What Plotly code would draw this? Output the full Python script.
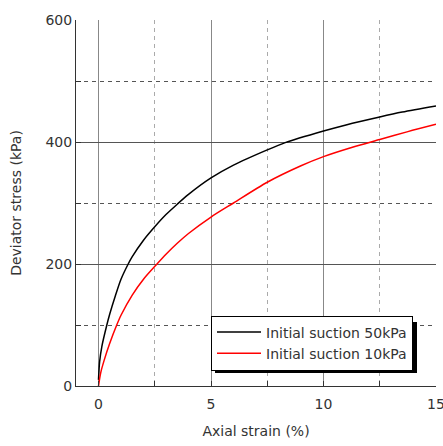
import plotly.graph_objects as go

strain_50 = [0, 0.05, 0.15, 0.37, 0.5, 0.75, 1.0, 1.32, 1.5, 2.0, 2.5, 3.0, 3.5, 4.0, 5.0, 6.0, 7.5, 8.3, 10.0, 11.0, 12.5, 13.5, 15.0]
stress_50 = [10, 40, 65, 100, 118, 148, 175, 200, 212, 239, 261, 281, 298, 314, 341, 362, 387, 399, 418, 428, 441, 449, 459]

strain_10 = [0, 0.1, 0.25, 0.5, 0.81, 1.0, 1.5, 2.0, 2.6, 3.0, 3.5, 4.0, 5.0, 6.0, 7.5, 9.0, 10.0, 11.25, 12.5, 13.75, 15.0]
stress_10 = [0, 22, 42, 70, 100, 116, 149, 175, 200, 216, 234, 250, 277, 300, 334, 361, 376, 391, 404, 417, 429]

name_50 = "Initial suction 50kPa"
name_10 = "Initial suction 10kPa"

FONT = "DejaVu Sans, Arial, sans-serif"
TXT = "#333"

L, R, T, B = 76, 436, 20, 386          # plot area in page pixels
W, H = 443, 446


def px(xp):
    return (xp - L) / (R - L)


def py(yp):
    return (B - yp) / (B - T)


fig = go.Figure()
fig.add_trace(go.Scatter(x=strain_50, y=stress_50, mode="lines", name=name_50,
                         line=dict(color="#000000", width=1.5, shape="spline", smoothing=0.8)))
fig.add_trace(go.Scatter(x=strain_10, y=stress_10, mode="lines", name=name_10,
                         line=dict(color="#ff0000", width=1.5, shape="spline", smoothing=0.8)))

# legend drop shadow
fig.add_shape(type="rect", xref="paper", yref="paper",
              x0=px(215), x1=px(417), y0=py(373), y1=py(322),
              fillcolor="#000", line=dict(width=0), layer="above")

fig.update_layout(
    width=W, height=H,
    margin=dict(l=L, r=W - R, t=T, b=H - B),
    paper_bgcolor="white", plot_bgcolor="white",
    font=dict(family=FONT, size=14, color=TXT),
    showlegend=True,
    legend=dict(x=px(413), y=py(343), xanchor="right", yanchor="middle",
                bgcolor="white", bordercolor="#000", borderwidth=1, itemwidth=44,
                font=dict(size=14, color=TXT), tracegroupgap=0),
    xaxis=dict(range=[-1, 15], tickvals=[0, 5, 10, 15], showline=True, linecolor="#333", linewidth=1,
               ticks="inside", ticklen=5, tickcolor="#333", zeroline=False, automargin=False,
               ticklabeloverflow="allow", ticklabelstandoff=5,
               showgrid=True, gridcolor="#888", gridwidth=1,
               minor=dict(tickvals=[2.5, 7.5, 12.5], ticks="inside", ticklen=5, tickcolor="#333",
                          showgrid=True, gridcolor="#aaa", griddash="4px,4px", gridwidth=1),
               title=dict(text="Axial strain (%)", font=dict(size=14, color=TXT), standoff=15)),
    yaxis=dict(range=[0, 600], tickvals=[0, 200, 400, 600], showline=True, linecolor="#333", linewidth=1,
               ticks="inside", ticklen=5, tickcolor="#333", zeroline=False, automargin=False,
               ticklabeloverflow="allow",
               showgrid=True, gridcolor="#555", gridwidth=1,
               minor=dict(tickvals=[100, 300, 500], ticks="inside", ticklen=5, tickcolor="#333",
                          showgrid=True, gridcolor="#555", griddash="4px,4px", gridwidth=1),
               title=dict(text="Deviator stress (kPa)", font=dict(size=14, color=TXT), standoff=20)),
)

fig.write_html("out.html", config={"displayModeBar": False},
               post_script="document.body.style.margin='0';document.body.style.overflow='hidden';")
